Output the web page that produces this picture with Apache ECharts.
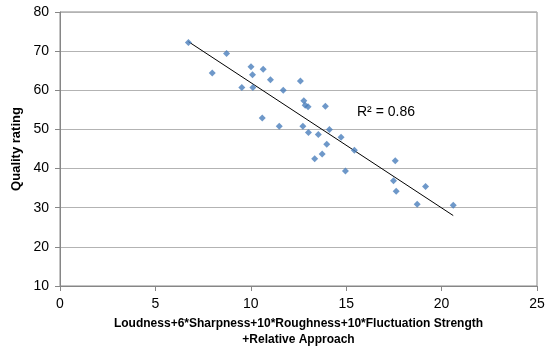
<!DOCTYPE html>
<html><head><meta charset="utf-8">
<script src="https://cdn.jsdelivr.net/npm/echarts@6/dist/echarts.min.js"></script>
<style>html,body{margin:0;padding:0;background:#fff}#c{width:545px;height:347px}</style>
</head><body><div id="c"></div>
<script>
const xValues = [6.73,8.73,7.98,10.01,10.09,10.65,11.03,9.53,10.11,11.70,12.60,12.78,12.85,13.00,13.91,10.60,11.49,12.73,13.02,13.54,14.12,14.73,13.98,13.74,13.35,15.43,14.96,17.57,17.48,17.62,19.16,18.72,20.61];
const yValues = [72.2,69.4,64.4,66.0,64.0,65.4,62.7,60.7,60.7,60.0,62.4,57.3,56.2,55.8,55.9,52.9,50.8,50.8,49.2,48.7,50.0,48.0,46.2,43.7,42.5,44.7,39.4,42.0,36.9,34.2,35.4,30.9,30.6];
const xTicks = [0,5,10,15,20,25];
const yTicks = [10,20,30,40,50,60,70,80];
const r2Label = 'R² = 0.86';
const xTitle = 'Loudness+6*Sharpness+10*Roughness+10*Fluctuation Strength\n+Relative Approach';
const yTitle = 'Quality rating';

const pts = xValues.map((x,i)=>[x,yValues[i]]);
const n = xValues.length;
const mx = xValues.reduce((a,b)=>a+b,0)/n, my = yValues.reduce((a,b)=>a+b,0)/n;
let sxy=0,sxx=0; for(let i=0;i<n;i++){sxy+=(xValues[i]-mx)*(yValues[i]-my);sxx+=(xValues[i]-mx)**2;}
const slope=sxy/sxx, icpt=my-slope*mx;
const xmin=Math.min(...xValues), xmax=Math.max(...xValues);
const trend=[[xmin,icpt+slope*xmin],[xmax,icpt+slope*xmax]];

const chart = echarts.init(document.getElementById('c'));
const font = 'Liberation Sans, Arial, sans-serif';
chart.setOption({
  animation:false,
  grid:{left:60,right:8,top:12,bottom:61,show:true,borderColor:'#868686',borderWidth:1,outerBoundsMode:'none',containLabel:false},
  xAxis:{type:'value',min:xTicks[0],max:xTicks[xTicks.length-1],interval:5,
    name:xTitle,nameLocation:'middle',nameGap:30,
    nameTextStyle:{fontFamily:font,fontWeight:'bold',fontSize:12,color:'#000',lineHeight:16},
    axisLine:{show:true,lineStyle:{color:'#868686'}},
    axisTick:{show:true,length:5,lineStyle:{color:'#868686'}},
    axisLabel:{fontFamily:font,fontSize:14,color:'#000',margin:11},
    splitLine:{show:false}},
  yAxis:{type:'value',min:yTicks[0],max:yTicks[yTicks.length-1],interval:10,
    name:yTitle,nameLocation:'middle',nameGap:34,
    nameTextStyle:{fontFamily:font,fontWeight:'bold',fontSize:13,color:'#000'},
    axisLine:{show:true,lineStyle:{color:'#868686'}},
    axisTick:{show:true,length:5,lineStyle:{color:'#868686'}},
    axisLabel:{fontFamily:font,fontSize:14,color:'#000',margin:11},
    splitLine:{show:true,lineStyle:{color:'#b3b3b3',width:1}}},
  series:[
    {type:'scatter',data:pts,symbol:'diamond',symbolSize:7,itemStyle:{color:'#4A7EBB'},z:3},
    {type:'line',data:trend,symbol:'none',lineStyle:{color:'#000',width:1},z:2}
  ],
  graphic:[{type:'text',left:357,top:105,style:{text:r2Label,fontFamily:font,fontSize:14,fill:'#000'}}]
});
</script></body></html>
